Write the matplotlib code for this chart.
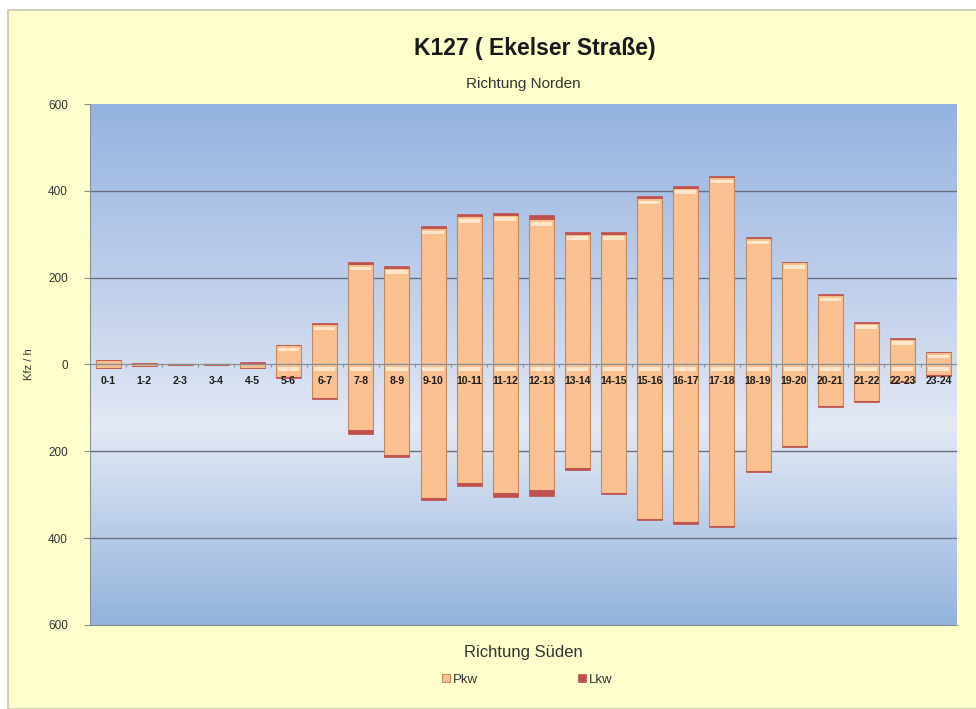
import numpy as np
import matplotlib
matplotlib.use('Agg')
import matplotlib.pyplot as plt
from matplotlib.colors import LinearSegmentedColormap
from matplotlib.patches import Rectangle

plt.rcParams['font.family'] = ['Liberation Sans', 'DejaVu Sans']

# Stundenintervalle
hours = ['0-1', '1-2', '2-3', '3-4', '4-5', '5-6', '6-7', '7-8', '8-9', '9-10',
		 '10-11', '11-12', '12-13', '13-14', '14-15', '15-16', '16-17', '17-18',
		 '18-19', '19-20', '20-21', '21-22', '22-23', '23-24']

# Richtung Norden (Kfz/h)
pkw_nord = [10, 3, 2, 2, 4, 44, 93, 231, 223, 314, 341, 345, 334, 301, 301, 383, 407, 432,
			291, 235, 160, 96, 59, 28]
lkw_nord = [1, 0, 0, 0, 1, 2, 3, 4, 4, 5, 5, 5, 10, 4, 4, 4, 4, 3, 3, 2, 2, 2, 1, 1]

# Richtung Süden (Kfz/h, nach unten)
pkw_sued = [7, 3, 2, 2, 9, 29, 78, 151, 208, 308, 274, 295, 288, 239, 295, 356, 363, 372,
			246, 187, 95, 83, 40, 25]
lkw_sued = [0, 0, 0, 0, 0, 1, 2, 8, 5, 4, 5, 10, 14, 5, 3, 3, 4, 3, 2, 3, 3, 4, 1, 1]

yticks = [-600, -400, -200, 0, 200, 400, 600]

pkw_col = '#FAC08F'
lkw_col = '#C0504D'
edge_col = '#C08B62'

fig = plt.figure(figsize=(9.76, 7.09), dpi=100)
fig.patch.set_facecolor('white')
fig.patches.append(Rectangle((0.008, 0.0), 1.0, 0.986, transform=fig.transFigure,
							 facecolor='#FFFFCC', edgecolor='#C8C8B4', linewidth=1.2, zorder=-5))

ax = fig.add_axes([0.0922, 0.1185, 0.888, 0.7348])
x = np.arange(len(hours))

# Hintergrund mit Verlauf
cmap = LinearSegmentedColormap.from_list('bg', [(0.0, '#93B3DC'), (0.38, '#E3E9F5'),
											   (0.55, '#CCD8EE'), (1.0, '#95B3E0')])
grad = np.linspace(0, 1, 256).reshape(-1, 1)
ax.imshow(grad, cmap=cmap, aspect='auto', extent=(-0.5, len(hours) - 0.5, -600, 600),
		  origin='lower', zorder=0)

for y in [-400, -200, 200, 400]:
	ax.axhline(y, color='#687080', linewidth=1.0, zorder=1)

w = 0.69
pn = np.array(pkw_nord)
ln = np.array(lkw_nord)
ps = -np.array(pkw_sued)
ls = -np.array(lkw_sued)

ax.bar(x, pn, w, color=pkw_col, edgecolor=edge_col, linewidth=0.8, zorder=2, label='Pkw')
ax.bar(x, ln, w, bottom=pn, color=lkw_col, edgecolor=lkw_col, linewidth=0.5, zorder=2, label='Lkw')
ax.bar(x, ps, w, color=pkw_col, edgecolor=edge_col, linewidth=0.8, zorder=2)
ax.bar(x, ls, w, bottom=ps, color=lkw_col, edgecolor=lkw_col, linewidth=0.5, zorder=2)

# heller Glanz oben an den Balken
hl_n = np.where(pn > 20, 8, 0)
ax.bar(x, hl_n, w * 0.85, bottom=pn - 14, color='#FFEBD2', alpha=0.9, linewidth=0, zorder=3)
hl_s = np.where(ps < -20, 8, 0)
ax.bar(x, hl_s, w * 0.85, bottom=-14, color='#FFEBD2', alpha=0.9, linewidth=0, zorder=3)

ax.axhline(0, color='#8A9098', linewidth=0.9, zorder=3)
ax.vlines(x[:-1] + 0.5, -6, 0, color='#8A9098', linewidth=0.8, zorder=3)

for i, h in enumerate(hours):
	ax.text(i, -38, h, ha='center', va='center', fontsize=7.6, fontweight='bold',
			color='#1E1E1E', zorder=4)

ax.set_xlim(-0.5, len(hours) - 0.5)
ax.set_ylim(-600, 600)
ax.set_xticks([])
ax.set_yticks(yticks)
ax.set_yticklabels([str(abs(v)) for v in yticks], fontsize=8.5, color='#333333')
ax.tick_params(axis='y', length=4, color='#8A8A8A', pad=12)
for s in ['top', 'right']:
	ax.spines[s].set_visible(False)
ax.spines['left'].set_color('#8A9098')
ax.spines['bottom'].set_color('#8A9098')
ax.set_ylabel('Kfz / h', fontsize=8, color='#333333', labelpad=10)

fig.text(0.548, 0.932, 'K127 ( Ekelser Straße)', ha='center', va='center',
		 fontsize=16.5, fontweight='bold', color='#1A1A1A')
fig.text(0.536, 0.882, 'Richtung Norden', ha='center', va='center', fontsize=11, color='#333333')
fig.text(0.536, 0.080, 'Richtung Süden', ha='center', va='center', fontsize=12, color='#333333')

leg = fig.legend(loc='center', bbox_to_anchor=(0.540, 0.041), ncol=2, frameon=False,
				 fontsize=9.5, handlelength=0.6, handleheight=0.6, columnspacing=7.6,
				 handletextpad=0.2)
for t in leg.get_texts():
	t.set_color('#333333')

fig.savefig('out.png', dpi=100, facecolor=fig.get_facecolor())
